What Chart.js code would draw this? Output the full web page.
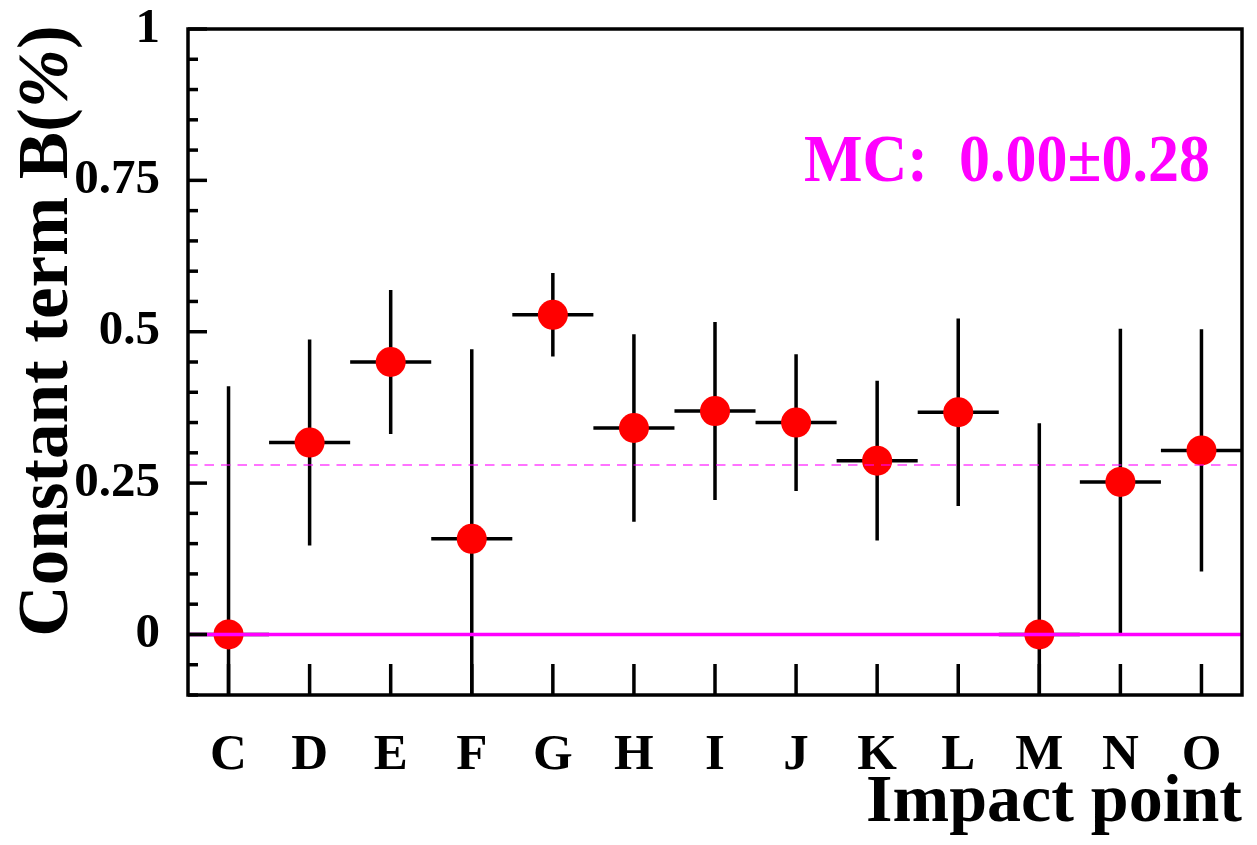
<!DOCTYPE html>
<html>
<head>
<meta charset="utf-8">
<title>Constant term B vs impact point</title>
<script src="https://cdn.jsdelivr.net/npm/chart.js@4.4.1/dist/chart.umd.min.js"></script>
<style>
  html, body { margin: 0; padding: 0; background: #fff; }
  #wrap { width: 1257px; height: 845px; }
</style>
</head>
<body>
<div id="wrap"><canvas id="chart" width="1257" height="845"></canvas></div>
<script>
// ── Data ──────────────────────────────────────────────────────────────────────
const POINTS   = ['C', 'D', 'E', 'F', 'G', 'H', 'I', 'J', 'K', 'L', 'M', 'N', 'O'];
const B_VALUES = [0.000, 0.317, 0.450, 0.158, 0.528, 0.341, 0.369, 0.350, 0.287, 0.367, 0.000, 0.252, 0.304];
const B_ERRORS = [0.410, 0.170, 0.119, 0.313, 0.069, 0.155, 0.147, 0.113, 0.132, 0.155, 0.349, 0.253, 0.200];
const Y_LABELS = [0, 0.25, 0.5, 0.75, 1];
const MC_MEAN  = 0.00;
const MC_ERR   = 0.28;

const SERIF   = "'Liberation Serif', 'Times New Roman', serif";
const MAGENTA = '#ff00ff';

// ── ROOT-style frame, error bars, reference lines and titles ─────────────────
const rootStyle = {
  id: 'rootStyle',
  beforeDatasetsDraw(chart) {
    const { ctx, chartArea: a, scales: { x, y } } = chart;
    ctx.save();
    ctx.beginPath();
    ctx.rect(a.left, a.top, a.right - a.left, a.bottom - a.top);
    ctx.clip();
    ctx.strokeStyle = '#000';
    ctx.lineWidth = 3.5;
    B_VALUES.forEach((v, i) => {
      const e  = B_ERRORS[i];
      const px = x.getPixelForValue(i + 0.5);
      const py = y.getPixelForValue(v);
      ctx.beginPath();
      ctx.moveTo(x.getPixelForValue(i), py);
      ctx.lineTo(x.getPixelForValue(i + 1), py);
      ctx.moveTo(px, y.getPixelForValue(v - e));
      ctx.lineTo(px, y.getPixelForValue(v + e));
      ctx.stroke();
    });
    ctx.restore();
  },
  afterDatasetsDraw(chart) {
    const { ctx, chartArea: a, scales: { y } } = chart;
    ctx.save();
    // MC band edge (dashed)
    ctx.strokeStyle = 'rgba(255,0,255,0.55)';
    ctx.lineWidth = 2;
    ctx.setLineDash([9.5, 7]);
    const yd = y.getPixelForValue(MC_MEAN + MC_ERR);
    ctx.beginPath(); ctx.moveTo(a.left, yd); ctx.lineTo(a.right, yd); ctx.stroke();
    // MC mean (solid)
    ctx.setLineDash([]);
    ctx.strokeStyle = MAGENTA;
    ctx.lineWidth = 3.5;
    const y0 = y.getPixelForValue(MC_MEAN);
    ctx.beginPath(); ctx.moveTo(a.left, y0); ctx.lineTo(a.right, y0); ctx.stroke();
    ctx.restore();
  },
  afterDraw(chart) {
    const { ctx, chartArea: a, scales: { x, y } } = chart;
    ctx.save();
    ctx.strokeStyle = '#000';
    ctx.lineWidth = 3.5;

    // y ticks (inside, on the left)
    y.ticks.forEach(t => {
      const major = Y_LABELS.some(l => Math.abs(l - t.value) < 1e-6);
      const py = y.getPixelForValue(t.value);
      ctx.beginPath();
      ctx.moveTo(a.left, py);
      ctx.lineTo(a.left + (major ? 19 : 10), py);
      ctx.stroke();
    });
    // x ticks (inside, at the bottom)
    x.ticks.forEach(t => {
      const px = x.getPixelForValue(t.value);
      ctx.beginPath();
      ctx.moveTo(px, a.bottom);
      ctx.lineTo(px, a.bottom - 31);
      ctx.stroke();
    });
    // frame
    ctx.strokeRect(a.left, a.top, a.right - a.left, a.bottom - a.top);

    ctx.fillStyle = '#000';
    // x title
    ctx.font = `bold 68px ${SERIF}`;
    ctx.textAlign = 'right';
    ctx.textBaseline = 'alphabetic';
    ctx.fillText('Impact point', a.right, 821);

    // y title (rotated, % in italic)
    const parts = [
      ['Constant term B(', `bold 71px ${SERIF}`],
      ['%', `italic bold 71px ${SERIF}`],
      [')', `bold 71px ${SERIF}`],
    ];
    let total = 0;
    parts.forEach(p => { ctx.font = p[1]; total += ctx.measureText(p[0]).width; });
    ctx.translate(67, 331);
    ctx.rotate(-Math.PI / 2);
    ctx.textAlign = 'left';
    let xx = -total / 2;
    parts.forEach(p => {
      ctx.font = p[1];
      ctx.fillText(p[0], xx, 0);
      xx += ctx.measureText(p[0]).width;
    });
    ctx.restore();

    // MC annotation
    ctx.save();
    ctx.fillStyle = MAGENTA;
    ctx.font = `bold 62px ${SERIF}`;
    ctx.textAlign = 'right';
    ctx.translate(1210, 181);
    ctx.scale(1, 1.08);
    ctx.fillText(`MC:  ${MC_MEAN.toFixed(2)}\u00b1${MC_ERR.toFixed(2)}`, 0, 0);
    ctx.restore();
  }
};

// ── Chart ─────────────────────────────────────────────────────────────────────
new Chart(document.getElementById('chart'), {
  type: 'scatter',
  data: {
    datasets: [{
      label: 'Constant term B',
      data: B_VALUES.map((v, i) => ({ x: i + 0.5, y: v })),
      pointRadius: 15,
      pointHoverRadius: 15,
      pointBackgroundColor: '#ff0000',
      pointBorderWidth: 0,
      showLine: false,
    }]
  },
  options: {
    responsive: false,
    animation: false,
    events: [],
    layout: { padding: { top: 29, right: 11, left: 0, bottom: 0 } },
    plugins: {
      legend: { display: false },
      tooltip: { enabled: false },
    },
    scales: {
      x: {
        type: 'linear',
        min: 0,
        max: POINTS.length,
        afterBuildTicks: s => { s.ticks = POINTS.map((_, i) => ({ value: i + 0.5 })); },
        afterFit: s => { s.height = 150; s.paddingLeft = 0; s.paddingRight = 0; },
        grid: { display: false, drawTicks: false },
        border: { display: false },
        ticks: {
          autoSkip: false,
          maxRotation: 0,
          padding: 30,
          color: '#000',
          font: { family: SERIF, size: 51, weight: 'bold' },
          callback: (v, i) => POINTS[i],
        },
      },
      y: {
        min: -0.1,
        max: 1,
        afterFit: s => { s.width = 188; s.paddingTop = 0; s.paddingBottom = 0; },
        grid: { display: false, drawTicks: false },
        border: { display: false },
        ticks: {
          stepSize: 0.05,
          autoSkip: false,
          padding: 28,
          color: '#000',
          font: { family: SERIF, size: 49, weight: 'bold' },
          callback: v => Y_LABELS.some(l => Math.abs(l - v) < 1e-6) ? String(Math.round(v * 100) / 100) : '',
        },
      }
    }
  },
  plugins: [rootStyle]
});
</script>
</body>
</html>
